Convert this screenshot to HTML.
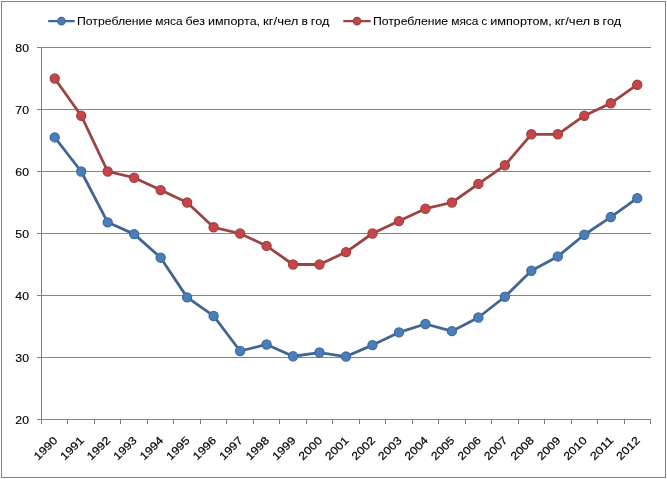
<!DOCTYPE html>
<html lang="ru"><head><meta charset="utf-8"><title>Потребление мяса</title>
<style>html,body{margin:0;padding:0;background:#fff;}body{width:667px;height:479px;overflow:hidden;}svg{display:block;}text{font-family:'Liberation Sans', sans-serif;fill:#000;stroke:#000;stroke-width:0.15px;}.lg{stroke-width:0.04px;}.yl{stroke-width:0.12px;}.xl{stroke-width:0.2px;}</style></head><body>
<svg width="667" height="479" viewBox="0 0 667 479">
<rect x="0" y="0" width="667" height="479" fill="#ffffff"/>
<rect x="1.5" y="1.5" width="664" height="476" fill="none" stroke="#838383" stroke-width="1" shape-rendering="crispEdges"/>
<line x1="37.00" y1="419.50" x2="651.00" y2="419.50" stroke="#848484" stroke-width="1" shape-rendering="crispEdges"/>
<line x1="37.00" y1="357.50" x2="651.00" y2="357.50" stroke="#848484" stroke-width="1" shape-rendering="crispEdges"/>
<line x1="37.00" y1="295.50" x2="651.00" y2="295.50" stroke="#848484" stroke-width="1" shape-rendering="crispEdges"/>
<line x1="37.00" y1="233.50" x2="651.00" y2="233.50" stroke="#848484" stroke-width="1" shape-rendering="crispEdges"/>
<line x1="37.00" y1="171.50" x2="651.00" y2="171.50" stroke="#848484" stroke-width="1" shape-rendering="crispEdges"/>
<line x1="37.00" y1="109.50" x2="651.00" y2="109.50" stroke="#848484" stroke-width="1" shape-rendering="crispEdges"/>
<line x1="37.00" y1="47.50" x2="651.00" y2="47.50" stroke="#848484" stroke-width="1" shape-rendering="crispEdges"/>
<line x1="41.50" y1="47.50" x2="41.50" y2="419.50" stroke="#7c7c7c" stroke-width="1" shape-rendering="crispEdges"/>
<line x1="41.50" y1="419.50" x2="41.50" y2="424.00" stroke="#7c7c7c" stroke-width="1" shape-rendering="crispEdges"/>
<line x1="67.50" y1="419.50" x2="67.50" y2="424.00" stroke="#7c7c7c" stroke-width="1" shape-rendering="crispEdges"/>
<line x1="94.50" y1="419.50" x2="94.50" y2="424.00" stroke="#7c7c7c" stroke-width="1" shape-rendering="crispEdges"/>
<line x1="120.50" y1="419.50" x2="120.50" y2="424.00" stroke="#7c7c7c" stroke-width="1" shape-rendering="crispEdges"/>
<line x1="147.50" y1="419.50" x2="147.50" y2="424.00" stroke="#7c7c7c" stroke-width="1" shape-rendering="crispEdges"/>
<line x1="173.50" y1="419.50" x2="173.50" y2="424.00" stroke="#7c7c7c" stroke-width="1" shape-rendering="crispEdges"/>
<line x1="200.50" y1="419.50" x2="200.50" y2="424.00" stroke="#7c7c7c" stroke-width="1" shape-rendering="crispEdges"/>
<line x1="226.50" y1="419.50" x2="226.50" y2="424.00" stroke="#7c7c7c" stroke-width="1" shape-rendering="crispEdges"/>
<line x1="253.50" y1="419.50" x2="253.50" y2="424.00" stroke="#7c7c7c" stroke-width="1" shape-rendering="crispEdges"/>
<line x1="279.50" y1="419.50" x2="279.50" y2="424.00" stroke="#7c7c7c" stroke-width="1" shape-rendering="crispEdges"/>
<line x1="306.50" y1="419.50" x2="306.50" y2="424.00" stroke="#7c7c7c" stroke-width="1" shape-rendering="crispEdges"/>
<line x1="332.50" y1="419.50" x2="332.50" y2="424.00" stroke="#7c7c7c" stroke-width="1" shape-rendering="crispEdges"/>
<line x1="359.50" y1="419.50" x2="359.50" y2="424.00" stroke="#7c7c7c" stroke-width="1" shape-rendering="crispEdges"/>
<line x1="385.50" y1="419.50" x2="385.50" y2="424.00" stroke="#7c7c7c" stroke-width="1" shape-rendering="crispEdges"/>
<line x1="412.50" y1="419.50" x2="412.50" y2="424.00" stroke="#7c7c7c" stroke-width="1" shape-rendering="crispEdges"/>
<line x1="438.50" y1="419.50" x2="438.50" y2="424.00" stroke="#7c7c7c" stroke-width="1" shape-rendering="crispEdges"/>
<line x1="465.50" y1="419.50" x2="465.50" y2="424.00" stroke="#7c7c7c" stroke-width="1" shape-rendering="crispEdges"/>
<line x1="491.50" y1="419.50" x2="491.50" y2="424.00" stroke="#7c7c7c" stroke-width="1" shape-rendering="crispEdges"/>
<line x1="518.50" y1="419.50" x2="518.50" y2="424.00" stroke="#7c7c7c" stroke-width="1" shape-rendering="crispEdges"/>
<line x1="544.50" y1="419.50" x2="544.50" y2="424.00" stroke="#7c7c7c" stroke-width="1" shape-rendering="crispEdges"/>
<line x1="571.50" y1="419.50" x2="571.50" y2="424.00" stroke="#7c7c7c" stroke-width="1" shape-rendering="crispEdges"/>
<line x1="597.50" y1="419.50" x2="597.50" y2="424.00" stroke="#7c7c7c" stroke-width="1" shape-rendering="crispEdges"/>
<line x1="624.50" y1="419.50" x2="624.50" y2="424.00" stroke="#7c7c7c" stroke-width="1" shape-rendering="crispEdges"/>
<line x1="650.50" y1="419.50" x2="650.50" y2="424.00" stroke="#7c7c7c" stroke-width="1" shape-rendering="crispEdges"/>
<text class="yl" x="29.0" y="423.90" font-size="10.60" text-anchor="end" textLength="13.7" lengthAdjust="spacingAndGlyphs">20</text>
<text class="yl" x="29.0" y="361.90" font-size="10.60" text-anchor="end" textLength="13.7" lengthAdjust="spacingAndGlyphs">30</text>
<text class="yl" x="29.0" y="299.90" font-size="10.60" text-anchor="end" textLength="13.7" lengthAdjust="spacingAndGlyphs">40</text>
<text class="yl" x="29.0" y="237.90" font-size="10.60" text-anchor="end" textLength="13.7" lengthAdjust="spacingAndGlyphs">50</text>
<text class="yl" x="29.0" y="175.90" font-size="10.60" text-anchor="end" textLength="13.7" lengthAdjust="spacingAndGlyphs">60</text>
<text class="yl" x="29.0" y="113.90" font-size="10.60" text-anchor="end" textLength="13.7" lengthAdjust="spacingAndGlyphs">70</text>
<text class="yl" x="29.0" y="51.90" font-size="10.60" text-anchor="end" textLength="13.7" lengthAdjust="spacingAndGlyphs">80</text>
<text transform="translate(58.14 441.00) rotate(-45)" class="xl" x="0" y="0" font-size="11.00" text-anchor="end" textLength="28.0" lengthAdjust="spacingAndGlyphs">1990</text>
<text transform="translate(84.62 441.00) rotate(-45)" class="xl" x="0" y="0" font-size="11.00" text-anchor="end" textLength="28.0" lengthAdjust="spacingAndGlyphs">1991</text>
<text transform="translate(111.10 441.00) rotate(-45)" class="xl" x="0" y="0" font-size="11.00" text-anchor="end" textLength="28.0" lengthAdjust="spacingAndGlyphs">1992</text>
<text transform="translate(137.57 441.00) rotate(-45)" class="xl" x="0" y="0" font-size="11.00" text-anchor="end" textLength="28.0" lengthAdjust="spacingAndGlyphs">1993</text>
<text transform="translate(164.05 441.00) rotate(-45)" class="xl" x="0" y="0" font-size="11.00" text-anchor="end" textLength="28.0" lengthAdjust="spacingAndGlyphs">1994</text>
<text transform="translate(190.53 441.00) rotate(-45)" class="xl" x="0" y="0" font-size="11.00" text-anchor="end" textLength="28.0" lengthAdjust="spacingAndGlyphs">1995</text>
<text transform="translate(217.01 441.00) rotate(-45)" class="xl" x="0" y="0" font-size="11.00" text-anchor="end" textLength="28.0" lengthAdjust="spacingAndGlyphs">1996</text>
<text transform="translate(243.49 441.00) rotate(-45)" class="xl" x="0" y="0" font-size="11.00" text-anchor="end" textLength="28.0" lengthAdjust="spacingAndGlyphs">1997</text>
<text transform="translate(269.97 441.00) rotate(-45)" class="xl" x="0" y="0" font-size="11.00" text-anchor="end" textLength="28.0" lengthAdjust="spacingAndGlyphs">1998</text>
<text transform="translate(296.44 441.00) rotate(-45)" class="xl" x="0" y="0" font-size="11.00" text-anchor="end" textLength="28.0" lengthAdjust="spacingAndGlyphs">1999</text>
<text transform="translate(322.92 441.00) rotate(-45)" class="xl" x="0" y="0" font-size="11.00" text-anchor="end" textLength="28.0" lengthAdjust="spacingAndGlyphs">2000</text>
<text transform="translate(349.40 441.00) rotate(-45)" class="xl" x="0" y="0" font-size="11.00" text-anchor="end" textLength="28.0" lengthAdjust="spacingAndGlyphs">2001</text>
<text transform="translate(375.88 441.00) rotate(-45)" class="xl" x="0" y="0" font-size="11.00" text-anchor="end" textLength="28.0" lengthAdjust="spacingAndGlyphs">2002</text>
<text transform="translate(402.36 441.00) rotate(-45)" class="xl" x="0" y="0" font-size="11.00" text-anchor="end" textLength="28.0" lengthAdjust="spacingAndGlyphs">2003</text>
<text transform="translate(428.83 441.00) rotate(-45)" class="xl" x="0" y="0" font-size="11.00" text-anchor="end" textLength="28.0" lengthAdjust="spacingAndGlyphs">2004</text>
<text transform="translate(455.31 441.00) rotate(-45)" class="xl" x="0" y="0" font-size="11.00" text-anchor="end" textLength="28.0" lengthAdjust="spacingAndGlyphs">2005</text>
<text transform="translate(481.79 441.00) rotate(-45)" class="xl" x="0" y="0" font-size="11.00" text-anchor="end" textLength="28.0" lengthAdjust="spacingAndGlyphs">2006</text>
<text transform="translate(508.27 441.00) rotate(-45)" class="xl" x="0" y="0" font-size="11.00" text-anchor="end" textLength="28.0" lengthAdjust="spacingAndGlyphs">2007</text>
<text transform="translate(534.75 441.00) rotate(-45)" class="xl" x="0" y="0" font-size="11.00" text-anchor="end" textLength="28.0" lengthAdjust="spacingAndGlyphs">2008</text>
<text transform="translate(561.23 441.00) rotate(-45)" class="xl" x="0" y="0" font-size="11.00" text-anchor="end" textLength="28.0" lengthAdjust="spacingAndGlyphs">2009</text>
<text transform="translate(587.70 441.00) rotate(-45)" class="xl" x="0" y="0" font-size="11.00" text-anchor="end" textLength="28.0" lengthAdjust="spacingAndGlyphs">2010</text>
<text transform="translate(614.18 441.00) rotate(-45)" class="xl" x="0" y="0" font-size="11.00" text-anchor="end" textLength="28.0" lengthAdjust="spacingAndGlyphs">2011</text>
<text transform="translate(640.66 441.00) rotate(-45)" class="xl" x="0" y="0" font-size="11.00" text-anchor="end" textLength="28.0" lengthAdjust="spacingAndGlyphs">2012</text>
<polyline points="54.74,137.40 81.22,171.50 107.70,222.34 134.17,234.12 160.65,257.68 187.13,297.36 213.61,315.96 240.09,350.99 266.57,344.48 293.04,356.26 319.52,352.54 346.00,356.57 372.48,345.10 398.96,332.39 425.43,324.02 451.91,331.15 478.39,317.51 504.87,296.74 531.35,270.70 557.83,256.44 584.30,234.74 610.78,217.07 637.26,198.16" fill="none" stroke="#426594" stroke-width="2.80" stroke-linejoin="round" stroke-linecap="round"/>
<circle cx="54.74" cy="137.40" r="4.55" fill="#497eba" stroke="#3f6b9d" stroke-width="1.30"/>
<circle cx="81.22" cy="171.50" r="4.55" fill="#497eba" stroke="#3f6b9d" stroke-width="1.30"/>
<circle cx="107.70" cy="222.34" r="4.55" fill="#497eba" stroke="#3f6b9d" stroke-width="1.30"/>
<circle cx="134.17" cy="234.12" r="4.55" fill="#497eba" stroke="#3f6b9d" stroke-width="1.30"/>
<circle cx="160.65" cy="257.68" r="4.55" fill="#497eba" stroke="#3f6b9d" stroke-width="1.30"/>
<circle cx="187.13" cy="297.36" r="4.55" fill="#497eba" stroke="#3f6b9d" stroke-width="1.30"/>
<circle cx="213.61" cy="315.96" r="4.55" fill="#497eba" stroke="#3f6b9d" stroke-width="1.30"/>
<circle cx="240.09" cy="350.99" r="4.55" fill="#497eba" stroke="#3f6b9d" stroke-width="1.30"/>
<circle cx="266.57" cy="344.48" r="4.55" fill="#497eba" stroke="#3f6b9d" stroke-width="1.30"/>
<circle cx="293.04" cy="356.26" r="4.55" fill="#497eba" stroke="#3f6b9d" stroke-width="1.30"/>
<circle cx="319.52" cy="352.54" r="4.55" fill="#497eba" stroke="#3f6b9d" stroke-width="1.30"/>
<circle cx="346.00" cy="356.57" r="4.55" fill="#497eba" stroke="#3f6b9d" stroke-width="1.30"/>
<circle cx="372.48" cy="345.10" r="4.55" fill="#497eba" stroke="#3f6b9d" stroke-width="1.30"/>
<circle cx="398.96" cy="332.39" r="4.55" fill="#497eba" stroke="#3f6b9d" stroke-width="1.30"/>
<circle cx="425.43" cy="324.02" r="4.55" fill="#497eba" stroke="#3f6b9d" stroke-width="1.30"/>
<circle cx="451.91" cy="331.15" r="4.55" fill="#497eba" stroke="#3f6b9d" stroke-width="1.30"/>
<circle cx="478.39" cy="317.51" r="4.55" fill="#497eba" stroke="#3f6b9d" stroke-width="1.30"/>
<circle cx="504.87" cy="296.74" r="4.55" fill="#497eba" stroke="#3f6b9d" stroke-width="1.30"/>
<circle cx="531.35" cy="270.70" r="4.55" fill="#497eba" stroke="#3f6b9d" stroke-width="1.30"/>
<circle cx="557.83" cy="256.44" r="4.55" fill="#497eba" stroke="#3f6b9d" stroke-width="1.30"/>
<circle cx="584.30" cy="234.74" r="4.55" fill="#497eba" stroke="#3f6b9d" stroke-width="1.30"/>
<circle cx="610.78" cy="217.07" r="4.55" fill="#497eba" stroke="#3f6b9d" stroke-width="1.30"/>
<circle cx="637.26" cy="198.16" r="4.55" fill="#497eba" stroke="#3f6b9d" stroke-width="1.30"/>
<polyline points="54.74,78.50 81.22,115.70 107.70,171.50 134.17,177.70 160.65,190.10 187.13,202.50 213.61,227.30 240.09,233.50 266.57,245.90 293.04,264.50 319.52,264.50 346.00,252.10 372.48,233.50 398.96,221.10 425.43,208.70 451.91,202.50 478.39,183.90 504.87,165.30 531.35,134.30 557.83,134.30 584.30,115.70 610.78,103.30 637.26,84.70" fill="none" stroke="#9a4541" stroke-width="2.80" stroke-linejoin="round" stroke-linecap="round"/>
<circle cx="54.74" cy="78.50" r="4.55" fill="#c9444a" stroke="#9c4240" stroke-width="1.30"/>
<circle cx="81.22" cy="115.70" r="4.55" fill="#c9444a" stroke="#9c4240" stroke-width="1.30"/>
<circle cx="107.70" cy="171.50" r="4.55" fill="#c9444a" stroke="#9c4240" stroke-width="1.30"/>
<circle cx="134.17" cy="177.70" r="4.55" fill="#c9444a" stroke="#9c4240" stroke-width="1.30"/>
<circle cx="160.65" cy="190.10" r="4.55" fill="#c9444a" stroke="#9c4240" stroke-width="1.30"/>
<circle cx="187.13" cy="202.50" r="4.55" fill="#c9444a" stroke="#9c4240" stroke-width="1.30"/>
<circle cx="213.61" cy="227.30" r="4.55" fill="#c9444a" stroke="#9c4240" stroke-width="1.30"/>
<circle cx="240.09" cy="233.50" r="4.55" fill="#c9444a" stroke="#9c4240" stroke-width="1.30"/>
<circle cx="266.57" cy="245.90" r="4.55" fill="#c9444a" stroke="#9c4240" stroke-width="1.30"/>
<circle cx="293.04" cy="264.50" r="4.55" fill="#c9444a" stroke="#9c4240" stroke-width="1.30"/>
<circle cx="319.52" cy="264.50" r="4.55" fill="#c9444a" stroke="#9c4240" stroke-width="1.30"/>
<circle cx="346.00" cy="252.10" r="4.55" fill="#c9444a" stroke="#9c4240" stroke-width="1.30"/>
<circle cx="372.48" cy="233.50" r="4.55" fill="#c9444a" stroke="#9c4240" stroke-width="1.30"/>
<circle cx="398.96" cy="221.10" r="4.55" fill="#c9444a" stroke="#9c4240" stroke-width="1.30"/>
<circle cx="425.43" cy="208.70" r="4.55" fill="#c9444a" stroke="#9c4240" stroke-width="1.30"/>
<circle cx="451.91" cy="202.50" r="4.55" fill="#c9444a" stroke="#9c4240" stroke-width="1.30"/>
<circle cx="478.39" cy="183.90" r="4.55" fill="#c9444a" stroke="#9c4240" stroke-width="1.30"/>
<circle cx="504.87" cy="165.30" r="4.55" fill="#c9444a" stroke="#9c4240" stroke-width="1.30"/>
<circle cx="531.35" cy="134.30" r="4.55" fill="#c9444a" stroke="#9c4240" stroke-width="1.30"/>
<circle cx="557.83" cy="134.30" r="4.55" fill="#c9444a" stroke="#9c4240" stroke-width="1.30"/>
<circle cx="584.30" cy="115.70" r="4.55" fill="#c9444a" stroke="#9c4240" stroke-width="1.30"/>
<circle cx="610.78" cy="103.30" r="4.55" fill="#c9444a" stroke="#9c4240" stroke-width="1.30"/>
<circle cx="637.26" cy="84.70" r="4.55" fill="#c9444a" stroke="#9c4240" stroke-width="1.30"/>
<line x1="48.20" y1="21.10" x2="74.70" y2="21.10" stroke="#426594" stroke-width="2.3"/>
<circle cx="61.45" cy="21.10" r="3.7" fill="#497eba" stroke="#3f6b9d" stroke-width="1.2"/>
<text class="lg" y="25.40" font-size="10.30"><tspan x="77.00" textLength="75.26" lengthAdjust="spacingAndGlyphs">Потребление</tspan> <tspan x="155.27" textLength="27.35" lengthAdjust="spacingAndGlyphs">мяса</tspan> <tspan x="185.64" textLength="19.37" lengthAdjust="spacingAndGlyphs">без</tspan> <tspan x="208.02" textLength="52.06" lengthAdjust="spacingAndGlyphs">импорта,</tspan> <tspan x="263.09" textLength="35.40" lengthAdjust="spacingAndGlyphs">кг/чел</tspan> <tspan x="301.50" textLength="6.38" lengthAdjust="spacingAndGlyphs">в</tspan> <tspan x="310.89" textLength="18.55" lengthAdjust="spacingAndGlyphs">год</tspan></text>
<line x1="343.30" y1="21.10" x2="370.70" y2="21.10" stroke="#9a4541" stroke-width="2.3"/>
<circle cx="357.00" cy="21.10" r="3.7" fill="#c9444a" stroke="#9c4240" stroke-width="1.2"/>
<text class="lg" y="25.40" font-size="10.30"><tspan x="372.90" textLength="75.26" lengthAdjust="spacingAndGlyphs">Потребление</tspan> <tspan x="451.17" textLength="27.35" lengthAdjust="spacingAndGlyphs">мяса</tspan> <tspan x="481.54" textLength="5.64" lengthAdjust="spacingAndGlyphs">с</tspan> <tspan x="490.18" textLength="61.56" lengthAdjust="spacingAndGlyphs">импортом,</tspan> <tspan x="554.76" textLength="35.40" lengthAdjust="spacingAndGlyphs">кг/чел</tspan> <tspan x="593.17" textLength="6.38" lengthAdjust="spacingAndGlyphs">в</tspan> <tspan x="602.57" textLength="18.55" lengthAdjust="spacingAndGlyphs">год</tspan></text>
</svg></body></html>
